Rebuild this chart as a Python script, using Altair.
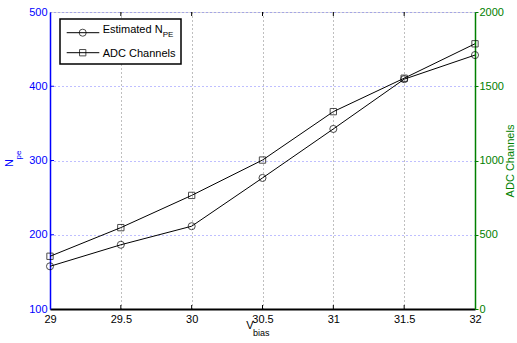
import altair as alt
import pandas as pd

vbias = [29, 29.5, 30, 30.5, 31, 31.5, 32]
npe = [157.5, 186.5, 211.5, 276.5, 342.5, 409.5, 442]
adc = [355, 548, 765, 1003, 1329, 1554, 1786]
x_ticks = [29, 29.5, 30, 30.5, 31, 31.5, 32]
left_ticks = [100, 200, 300, 400, 500]
right_ticks = [0, 500, 1000, 1500, 2000]

W, H = 425, 297
FONT = "Liberation Sans"
BLUE = "#0000ff"
GREEN = "#008000"

df = pd.DataFrame({"v": vbias, "npe": npe, "adc": adc})
one = pd.DataFrame({"a": [0]})

xs = alt.Scale(domain=[29, 32], nice=False, zero=False)
x_axis = alt.Axis(values=x_ticks, title=None, grid=True, gridColor="#000", gridOpacity=0.5,
                  gridDash=[1, 3], ticks=False, domainColor="#000", domainWidth=2,
                  labelColor="#000", labelFont=FONT, labelFontSize=11, labelPadding=4,
                  labelFlush=False, labelExpr="'' + datum.value")
ls = alt.Scale(domain=[100, 500], nice=False, zero=False)
rs = alt.Scale(domain=[0, 2000], nice=False, zero=False)

base = alt.Chart(df)
line_l = base.mark_line(color="#000", strokeWidth=1).encode(
    x=alt.X("v:Q", scale=xs, axis=x_axis),
    y=alt.Y("npe:Q", scale=ls, axis=alt.Axis(values=left_ticks, title=None, grid=True,
            gridColor=BLUE, gridOpacity=0.5, gridDash=[1, 3], ticks=False,
            domainColor=BLUE, domainWidth=1.5, labelColor=BLUE, labelFont=FONT,
            labelFontSize=11, labelPadding=3, labelFlush=False,
            labelExpr="'' + datum.value")))
pt_l = base.mark_point(shape="circle", filled=False, color="#000", size=50, strokeWidth=1).encode(
    x=alt.X("v:Q", scale=xs), y=alt.Y("npe:Q", scale=ls))
lt = alt.Chart(pd.DataFrame({"t": left_ticks[1:-1]})).mark_rule(color=BLUE).encode(
    y=alt.Y("t:Q", scale=ls), x=alt.value(0), x2=alt.value(4))
left = alt.layer(line_l, pt_l, lt)

line_r = base.mark_line(color="#000", strokeWidth=1).encode(
    x=alt.X("v:Q", scale=xs),
    y=alt.Y("adc:Q", scale=rs, axis=alt.Axis(values=right_ticks, title=None, grid=False,
            orient="right", ticks=True, tickSize=3, tickColor=GREEN,
            domainColor=GREEN, domainWidth=1.5, labelColor=GREEN, labelFont=FONT,
            labelFontSize=11, labelPadding=1, labelFlush=False,
            labelExpr="'' + datum.value")))
pt_r = base.mark_point(shape="square", filled=False, color="#000", size=40, strokeWidth=1).encode(
    x=alt.X("v:Q", scale=xs), y=alt.Y("adc:Q", scale=rs))
right = alt.layer(line_r, pt_r)

xt = alt.Chart(pd.DataFrame({"t": x_ticks[1:-1]}))
xt_b = xt.mark_rule(color="#000").encode(x=alt.X("t:Q", scale=xs), y=alt.value(H - 4), y2=alt.value(H))
xt_t = xt.mark_rule(color="#000").encode(x=alt.X("t:Q", scale=xs), y=alt.value(0), y2=alt.value(4))

d = alt.Chart(one)
def txt(s, x, y, size=11, color="#000", angle=0, align="left", baseline="alphabetic"):
    return d.mark_text(text=s, font=FONT, fontSize=size, color=color, angle=angle,
                       align=align, baseline=baseline).encode(x=alt.value(x), y=alt.value(y))

leg_box = d.mark_rect(fill="#fff", stroke="#000", strokeWidth=1.5).encode(
    x=alt.value(10), x2=alt.value(131), y=alt.value(7), y2=alt.value(52))
leg_l1 = d.mark_rule(color="#000").encode(x=alt.value(16.7), x2=alt.value(49.3), y=alt.value(20.7))
leg_l2 = d.mark_rule(color="#000").encode(x=alt.value(16.7), x2=alt.value(49.3), y=alt.value(40.7))
leg_p1 = d.mark_point(shape="circle", filled=False, color="#000", size=50, strokeWidth=1).encode(
    x=alt.value(32.7), y=alt.value(20.7))
leg_p2 = d.mark_point(shape="square", filled=False, color="#000", size=40, strokeWidth=1).encode(
    x=alt.value(32.7), y=alt.value(40.7))
leg_t1 = txt("Estimated N", 52.7, 21)
leg_t1s = txt("PE", 112.7, 25, size=8)
leg_t2 = txt("ADC Channels", 52.7, 44.5)

ytitle = txt("N", -40, 151, angle=270, align="center", baseline="middle", color=BLUE)
ytitle_s = txt("pe", -31, 143, size=8, angle=270, align="center", baseline="middle", color=BLUE)
rtitle = txt("ADC Channels", 461, 149, angle=270, align="center", baseline="middle", color=GREEN)
xtitle = txt("V", 200, 317, align="center")
xtitle_s = txt("bias", 203, 324, size=9)

chart = alt.layer(
    left, right, xt_b, xt_t,
    leg_box, leg_l1, leg_l2, leg_p1, leg_p2, leg_t1, leg_t1s, leg_t2,
    ytitle, ytitle_s, rtitle, xtitle, xtitle_s,
).resolve_scale(y="independent").properties(
    width=W, height=H,
    autosize=alt.AutoSizeParams(type="none"),
    padding={"left": 50, "top": 12, "right": 42, "bottom": 34},
).configure_view(stroke="#000", strokeWidth=1).configure(background="#fff")

chart.save("out.html", embed_options={"renderer": "svg", "actions": False})
